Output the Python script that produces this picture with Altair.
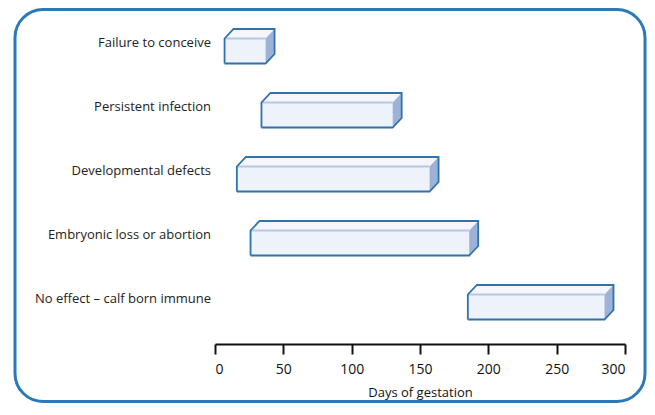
import altair as alt
import pandas as pd

# ---- data ----
categories = [
    "Failure to conceive",
    "Persistent infection",
    "Developmental defects",
    "Embryonic loss or abortion",
    "No effect \u2013 calf born immune",
]
start_day = [7, 34, 16, 26, 185]
end_day = [37, 130, 157, 186, 285]
x_ticks = [0, 50, 100, 150, 200, 250, 300]

# ---- layout ----
W, H = 410, 324
PAD = {"left": 207, "top": 12, "right": 22, "bottom": 59}
X_MAX = 300
SLOT_PX = 64.0          # vertical distance between bars
BOTTOM_CENTER_PX = 37.0  # centre of lowest bar above axis
Y_MIN = -BOTTOM_CENTER_PX / SLOT_PX
Y_MAX = Y_MIN + H / SLOT_PX
HALF_H = 12.5 / SLOT_PX        # half height of the front face
DX = 9.0 * X_MAX / W           # 3-D depth, x units
DY = 9.5 / SLOT_PX             # 3-D depth, y units
LABEL_SHIFT = 8.0 / SLOT_PX

FONT = "Open Sans"
OUTLINE = "#2f72ad"

n = len(categories)
front_rows, top_rows, side_rows, edge_rows, outline_rows, label_rows = [], [], [], [], [], []
for i, (c, s, e) in enumerate(zip(categories, start_day, end_day)):
    pos = n - 1 - i
    yb, yt = pos - HALF_H, pos + HALF_H
    front_rows.append({"bar": c, "x0": s, "x1": e, "yb": yb, "yt": yt})
    for vx, lo, hi in [(s, yt, yt), (s + DX, yt, yt + DY), (e, yt, yt + DY), (e + DX, yt + DY, yt + DY)]:
        top_rows.append({"bar": c, "vx": vx, "lo": lo, "hi": hi})
    for vx, lo, hi in [(e, yb, yt), (e + DX, yb + DY, yt + DY)]:
        side_rows.append({"bar": c, "vx": vx, "lo": lo, "hi": hi})
    edge_rows.append({"bar": c, "x0": s, "x1": e, "yt": yt})
    verts = [(s, yb), (e, yb), (e + DX, yb + DY), (e + DX, yt + DY), (s + DX, yt + DY), (s, yt), (s, yb)]
    for k, (vx, vy) in enumerate(verts):
        outline_rows.append({"bar": c, "vx": vx, "vy": vy, "k": k})
    label_rows.append({"bar": c, "ly": pos + LABEL_SHIFT})

X_SCALE = alt.Scale(domain=[0, X_MAX], nice=False, zero=False)
Y_SCALE = alt.Scale(domain=[Y_MIN, Y_MAX], nice=False, zero=False)
X_AXIS = alt.Axis(
    values=x_ticks, grid=False, tickSize=10, tickWidth=2, domainWidth=2,
    domainColor="#111111", tickColor="#111111", labelColor="#111111",
    labelFont=FONT, labelFontSize=14, labelPadding=8,
    title="Days of gestation", titleFont=FONT, titleFontSize=13,
    titleFontWeight="normal", titleColor="#111111", titlePadding=10,
)

def xq(field):
    return alt.X(f"{field}:Q", scale=X_SCALE, axis=X_AXIS)

def yq(field):
    return alt.Y(f"{field}:Q", scale=Y_SCALE, axis=None)

front = alt.Chart(pd.DataFrame(front_rows)).mark_rect(fill="#eef2fb").encode(
    x=xq("x0"), x2="x1", y=yq("yb"), y2="yt"
)
top = alt.Chart(pd.DataFrame(top_rows)).mark_area(fill="#f4f6fc", opacity=1).encode(
    x=xq("vx"), y=yq("lo"), y2="hi", detail="bar:N"
)
side = alt.Chart(pd.DataFrame(side_rows)).mark_area(fill="#9cb3d7", opacity=1).encode(
    x=xq("vx"), y=yq("lo"), y2="hi", detail="bar:N"
)
edge = alt.Chart(pd.DataFrame(edge_rows)).mark_rule(color="#b5c7e6", strokeWidth=2).encode(
    x=xq("x0"), x2="x1", y=yq("yt")
)
outline = alt.Chart(pd.DataFrame(outline_rows)).mark_line(
    color=OUTLINE, strokeWidth=1.8, strokeJoin="miter"
).encode(x=xq("vx"), y=yq("vy"), detail="bar:N", order="k:Q")
labels = alt.Chart(pd.DataFrame(label_rows)).mark_text(
    align="right", baseline="middle", font=FONT, fontSize=13, color="#222222"
).encode(x=alt.value(-4), y=yq("ly"), text="bar:N")
border = alt.Chart(pd.DataFrame({"a": [0]})).mark_rect(
    fill="transparent", stroke="#2a7ab9", strokeWidth=3, cornerRadius=28
).encode(x=alt.value(-200), x2=alt.value(430), y=alt.value(-10.5), y2=alt.value(381.5))

chart = alt.layer(border, front, top, side, edge, outline, labels).properties(
    width=W, height=H, padding=PAD,
    autosize=alt.AutoSizeParams(type="none"),
).configure_view(stroke=None)

chart.save("out.html", embed_options={"renderer": "svg", "actions": False})
